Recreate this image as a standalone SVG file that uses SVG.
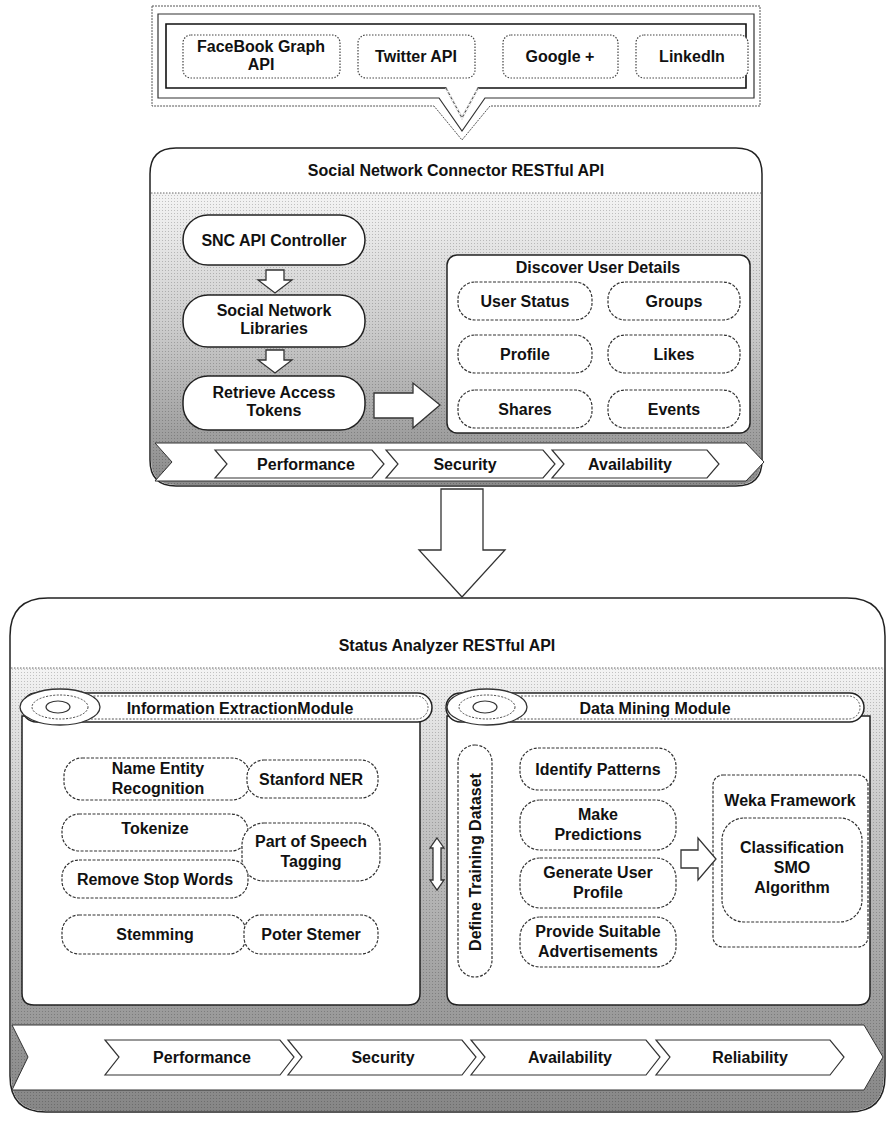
<svg xmlns="http://www.w3.org/2000/svg" width="891" height="1122" viewBox="0 0 891 1122">
<style>
text{font-family:"Liberation Sans",Arial,sans-serif;font-weight:bold;fill:#111;text-anchor:middle;font-size:16px;}
.pill{fill:#fff;stroke:#222;stroke-width:1.5;}
.dpill{fill:#fff;stroke:#333;stroke-width:1.2;stroke-dasharray:3 1.5;}
.dot{fill:#fff;stroke:#444;stroke-width:1.2;stroke-dasharray:1.5 1.5;}
.box{fill:#fff;stroke:#222;stroke-width:1.5;}
.chev{fill:#fff;stroke:#333;stroke-width:1.2;}
.arrow{fill:#fff;stroke:#333;stroke-width:1.3;}
</style>
<defs>
<linearGradient id="g1" x1="0" y1="0" x2="0" y2="1">
<stop offset="0" stop-color="#f4f4f4"/>
<stop offset="0.45" stop-color="#cdcdcd"/>
<stop offset="1" stop-color="#8a8a8a"/>
</linearGradient>
<linearGradient id="g2" x1="0" y1="0" x2="0" y2="1">
<stop offset="0" stop-color="#f4f4f4"/>
<stop offset="0.35" stop-color="#c4c4c4"/>
<stop offset="1" stop-color="#868686"/>
</linearGradient>
<pattern id="dots" width="3" height="3" patternUnits="userSpaceOnUse">
<rect x="0" y="0" width="1" height="1" fill="#000" opacity="0.2"/>
</pattern>
</defs>

<!-- Top sources box -->
<g id="sources">
<path d="M152,6 H760 V106 H490 L462,140 L434,106 H152 Z" fill="#fff" stroke="#555" stroke-width="1" stroke-dasharray="2 1"/>
<path d="M158,14 H754 V98 H485 L462,131 L439,98 H158 Z" fill="none" stroke="#333" stroke-width="1.2"/>
<path d="M166,24 H746 V88 H478 L462,118 L446,88 H166 Z" fill="none" stroke="#111" stroke-width="1.6"/>
<path d="M446,88 L462,118 L478,88" fill="none" stroke="#fff" stroke-width="2"/>
<path d="M446,88 L462,118 L478,88" fill="none" stroke="#444" stroke-width="1" stroke-dasharray="3 2"/>
<g id="fb"><rect class="dot" x="183" y="35" width="157" height="43" rx="8"/><text x="261" y="52">FaceBook Graph</text><text x="261" y="70">API</text></g>
<g id="tw"><rect class="dot" x="358" y="35" width="117" height="43" rx="8"/><text x="416" y="62">Twitter API</text></g>
<g id="gp"><rect class="dot" x="503" y="35" width="115" height="43" rx="8"/><text x="560" y="62">Google +</text></g>
<g id="li"><rect class="dot" x="636" y="35" width="112" height="43" rx="8"/><text x="692" y="62">LinkedIn</text></g>
</g>

<!-- Social Network Connector -->
<g id="snc">
<path d="M176,148 H736 Q762,148 762,174 V460 Q762,486 736,486 H176 Q150,486 150,460 V174 Q150,148 176,148 Z" fill="#fff" stroke="#222" stroke-width="1.5"/>
<path d="M151,193 H761 V460 Q761,485 736,485 H176 Q151,485 151,460 Z" fill="url(#g1)"/>
<path d="M151,193 H761 V460 Q761,485 736,485 H176 Q151,485 151,460 Z" fill="url(#dots)"/>
<line x1="151" y1="193" x2="761" y2="193" stroke="#666" stroke-dasharray="1.5 1.5"/>
<text x="456" y="176">Social Network Connector RESTful API</text>
</g>
<g id="snc-ctrl"><rect class="pill" x="183" y="215" width="182" height="50" rx="25"/><text x="274" y="246">SNC API Controller</text></g>
<g id="snc-lib"><rect class="pill" x="183" y="295" width="182" height="52" rx="25"/><text x="274" y="316">Social Network</text><text x="274" y="334">Libraries</text></g>
<g id="snc-tok"><rect class="pill" x="183" y="376" width="182" height="54" rx="25"/><text x="274" y="398">Retrieve Access</text><text x="274" y="416">Tokens</text></g>
<g id="discover">
<rect class="box" x="447" y="255" width="303" height="178" rx="10"/>
<text x="598" y="273">Discover User Details</text>
<rect class="dpill" x="458" y="282" width="134" height="38" rx="17"/><text x="525" y="307">User Status</text>
<rect class="dpill" x="608" y="282" width="132" height="38" rx="17"/><text x="674" y="307">Groups</text>
<rect class="dpill" x="458" y="335" width="134" height="38" rx="17"/><text x="525" y="360">Profile</text>
<rect class="dpill" x="608" y="335" width="132" height="38" rx="17"/><text x="674" y="360">Likes</text>
<rect class="dpill" x="458" y="390" width="134" height="38" rx="17"/><text x="525" y="415">Shares</text>
<rect class="dpill" x="608" y="390" width="132" height="38" rx="17"/><text x="674" y="415">Events</text>
</g>
<g id="snc-band">
<polygon points="155,443 746,443 764,462 746,481 155,481 172,462" fill="#fff" stroke="#333" stroke-width="1"/>
<polygon class="chev" points="215,450 372,450 384,464 372,478 215,478 227,464"/>
<polygon class="chev" points="386,450 543,450 555,464 543,478 386,478 398,464"/>
<polygon class="chev" points="552,450 707,450 719,464 707,478 552,478 564,464"/>
<text x="306" y="470">Performance</text>
<text x="465" y="470">Security</text>
<text x="630" y="470">Availability</text>
</g>

<!-- Status Analyzer -->
<g id="sa">
<path d="M48,598 H847 Q885,598 885,636 V1076 Q885,1112 849,1112 H46 Q10,1112 10,1076 V636 Q10,598 48,598 Z" fill="#fff" stroke="#222" stroke-width="1.5"/>
<path d="M11,668 H884 V1076 Q884,1111 849,1111 H46 Q11,1111 11,1076 Z" fill="url(#g2)"/>
<path d="M11,668 H884 V1076 Q884,1111 849,1111 H46 Q11,1111 11,1076 Z" fill="url(#dots)"/>
<line x1="11" y1="668" x2="884" y2="668" stroke="#666" stroke-dasharray="1.5 1.5"/>
<text x="447" y="651">Status Analyzer RESTful API</text>
</g>

<!-- Information Extraction Module -->
<g id="iem">
<path d="M22,716 H420 V993 Q420,1005 408,1005 H34 Q22,1005 22,993 Z" class="box"/>
<rect x="22" y="693" width="410" height="29" rx="14.5" fill="#fff" stroke="#222" stroke-width="1.5"/>
<rect x="26" y="696" width="402" height="23" rx="11.5" fill="none" stroke="#555" stroke-width="1" stroke-dasharray="2 1.5"/>
<ellipse cx="60" cy="707" rx="40" ry="18" fill="#fff" stroke="#333" stroke-width="1.3"/>
<ellipse cx="60" cy="707" rx="28" ry="12" fill="none" stroke="#444" stroke-width="1" stroke-dasharray="2 1.5"/>
<ellipse cx="58" cy="707" rx="12" ry="6" fill="none" stroke="#333" stroke-width="1.2"/>
<text x="240" y="714">Information ExtractionModule</text>
</g>
<g id="ner"><rect class="dpill" x="64" y="758" width="186" height="42" rx="18"/><text x="158" y="774">Name Entity</text><text x="158" y="794">Recognition</text></g>
<g id="stanford"><rect class="dpill" x="247" y="760" width="131" height="38" rx="17"/><text x="311" y="785">Stanford NER</text></g>
<g id="tok"><rect class="dpill" x="62" y="814" width="186" height="37" rx="17"/><text x="155" y="834">Tokenize</text></g>
<g id="pos"><rect class="dpill" x="242" y="823" width="138" height="58" rx="22"/><text x="311" y="847">Part of Speech</text><text x="311" y="867">Tagging</text></g>
<g id="stop"><rect class="dpill" x="62" y="860" width="186" height="38" rx="17"/><text x="155" y="885">Remove Stop Words</text></g>
<g id="stem"><rect class="dpill" x="62" y="915" width="184" height="39" rx="17"/><text x="155" y="940">Stemming</text></g>
<g id="poter"><rect class="dpill" x="244" y="915" width="134" height="39" rx="17"/><text x="311" y="940">Poter Stemer</text></g>

<!-- Data Mining Module -->
<g id="dmm">
<path d="M447,716 H870 V993 Q870,1005 858,1005 H459 Q447,1005 447,993 Z" class="box"/>
<rect x="446" y="693" width="418" height="29" rx="14.5" fill="#fff" stroke="#222" stroke-width="1.5"/>
<rect x="450" y="696" width="410" height="23" rx="11.5" fill="none" stroke="#555" stroke-width="1" stroke-dasharray="2 1.5"/>
<ellipse cx="487" cy="707" rx="40" ry="18" fill="#fff" stroke="#333" stroke-width="1.3"/>
<ellipse cx="487" cy="707" rx="28" ry="12" fill="none" stroke="#444" stroke-width="1" stroke-dasharray="2 1.5"/>
<ellipse cx="485" cy="707" rx="12" ry="6" fill="none" stroke="#333" stroke-width="1.2"/>
<text x="655" y="714">Data Mining Module</text>
</g>
<g id="dtd"><rect class="dpill" x="458" y="745" width="34" height="232" rx="17"/><text transform="translate(481,862) rotate(-90)">Define Training Dataset</text></g>
<g id="idp"><rect class="dpill" x="520" y="748" width="156" height="42" rx="18"/><text x="598" y="775">Identify Patterns</text></g>
<g id="mkp"><rect class="dpill" x="520" y="800" width="156" height="50" rx="20"/><text x="598" y="820">Make</text><text x="598" y="840">Predictions</text></g>
<g id="gup"><rect class="dpill" x="520" y="858" width="156" height="50" rx="20"/><text x="598" y="878">Generate User</text><text x="598" y="898">Profile</text></g>
<g id="psa"><rect class="dpill" x="520" y="917" width="156" height="50" rx="20"/><text x="598" y="937">Provide Suitable</text><text x="598" y="957">Advertisements</text></g>
<g id="weka">
<rect class="dpill" x="713" y="775" width="155" height="172" rx="10"/>
<text x="790" y="806">Weka Framework</text>
<rect class="dpill" x="722" y="818" width="140" height="104" rx="22"/>
<text x="792" y="853">Classification</text>
<text x="792" y="873">SMO</text>
<text x="792" y="893">Algorithm</text>
</g>

<g id="sa-band">
<polygon points="12,1025 864,1025 883,1057 864,1090 12,1090 28,1057" fill="#fff" stroke="#333" stroke-width="1"/>
<polygon class="chev" points="105,1040 280,1040 294,1057 280,1075 105,1075 119,1057"/>
<polygon class="chev" points="288,1040 462,1040 476,1057 462,1075 288,1075 302,1057"/>
<polygon class="chev" points="471,1040 646,1040 660,1057 646,1075 471,1075 485,1057"/>
<polygon class="chev" points="656,1040 830,1040 844,1057 830,1075 656,1075 670,1057"/>
<text x="202" y="1063">Performance</text>
<text x="383" y="1063">Security</text>
<text x="570" y="1063">Availability</text>
<text x="750" y="1063">Reliability</text>
</g>

<!-- Connectors -->
<g id="connectors">
<path class="arrow" d="M266,270 H284 V280 H292 L275,293 L258,280 H266 Z"/>
<path class="arrow" d="M266,350 H284 V360 H292 L275,373 L258,360 H266 Z"/>
<path class="arrow" d="M374,393 H413 V383 L440,405 L413,428 V418 H374 Z"/>
<path class="arrow" d="M441,489 H483 V550 H505 L462,597 L419,550 H441 Z"/>
<path class="arrow" d="M681,850 H698 V838 L716,859 L698,880 V868 H681 Z"/>
<path class="arrow" d="M437,838 L444,848 H441 V880 H444 L437,890 L430,880 H433 V848 H430 Z"/>
</g>
</svg>
